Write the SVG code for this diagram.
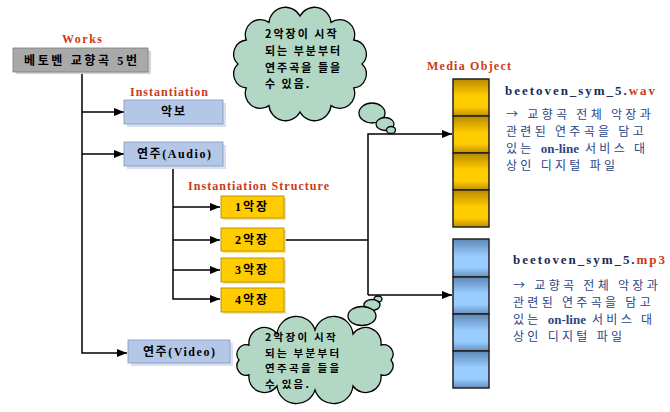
<svg xmlns="http://www.w3.org/2000/svg" width="670" height="412" viewBox="0 0 670 412">
<defs>
<style>
.lbl{font-family:"Liberation Serif","Noto Sans CJK KR",serif;font-weight:bold;font-size:12px;fill:#CC3A14}
.bx{font-family:"Liberation Serif","Noto Sans CJK KR",serif;font-weight:bold;font-size:12px;fill:#000}
.cl{font-family:"Noto Sans CJK KR",sans-serif;font-weight:bold;font-size:11px;fill:#000;letter-spacing:2px}
.cl2{font-family:"Noto Sans CJK KR",sans-serif;font-weight:bold;font-size:10.5px;fill:#000;letter-spacing:2.3px}
.ttl{font-family:"Liberation Serif","Noto Sans CJK KR",serif;font-weight:bold;font-size:13px;fill:#1B2A55}
.red{fill:#CC3A14}
.ds{font-family:"Noto Sans CJK KR",sans-serif;font-size:12px;fill:#2A4585;letter-spacing:3.3px}
.ol{font-family:"Liberation Serif",serif;font-weight:bold;font-size:13px;letter-spacing:0}
.conn{fill:none;stroke:#000;stroke-width:1.5}
.cloud{fill:#B2D8C5;stroke:#000;stroke-width:1.3}
.cellw{fill:url(#gw);stroke:#222;stroke-width:1.5}
.cellm{fill:url(#gm);stroke:#222;stroke-width:1.5}
</style>
<linearGradient id="gw" x1="0" y1="0" x2="0" y2="1">
<stop offset="0" stop-color="#B88A00"/><stop offset="0.45" stop-color="#FFCC00"/><stop offset="0.75" stop-color="#FFCC00"/><stop offset="1" stop-color="#C09000"/>
</linearGradient>
<linearGradient id="gm" x1="0" y1="0" x2="0" y2="1">
<stop offset="0" stop-color="#5E88B6"/><stop offset="0.45" stop-color="#99CCFF"/><stop offset="0.75" stop-color="#99CCFF"/><stop offset="1" stop-color="#6690BE"/>
</linearGradient>
<marker id="ah" markerUnits="userSpaceOnUse" markerWidth="11" markerHeight="9" refX="10" refY="4" orient="auto">
<path d="M0,0 L10,4 L0,8 z" fill="#000"/>
</marker>
</defs>

<rect width="670" height="412" fill="#fff"/>

<g id="connectors">
<path class="conn" d="M82,72 V353 H127" marker-end="url(#ah)"/>
<path class="conn" d="M82,112 H124" marker-end="url(#ah)"/>
<path class="conn" d="M82,154 H124" marker-end="url(#ah)"/>
<path class="conn" d="M173,166 V299 H220" marker-end="url(#ah)"/>
<path class="conn" d="M173,207 H220" marker-end="url(#ah)"/>
<path class="conn" d="M173,240 H220" marker-end="url(#ah)"/>
<path class="conn" d="M173,270 H220" marker-end="url(#ah)"/>
<path class="conn" d="M285,240 H368"/>
<path class="conn" d="M368,295 V134 H452" marker-end="url(#ah)"/>
<path class="conn" d="M368,295 H452" marker-end="url(#ah)"/>
</g>

<g id="works">
<text class="lbl" x="62" y="43" textLength="40" lengthAdjust="spacing">Works</text>
<rect x="16" y="51" width="135" height="23" fill="#D4D4D4"/>
<rect x="13" y="48" width="135" height="24" fill="#A9A9A9" stroke="#7A7A7A" stroke-width="0.8"/>
<text class="bx" x="24" y="65" textLength="113" lengthAdjust="spacing">베토벤 교향곡 5번</text>
</g>

<g id="akbo">
<text class="lbl" x="130" y="96" textLength="78" lengthAdjust="spacing">Instantiation</text>
<rect x="127" y="103" width="99" height="24" fill="#D6E0F2"/>
<rect x="124" y="100" width="99" height="24" fill="#B4C7E7" stroke="#8296B8" stroke-width="0.8"/>
<text class="bx" x="174" y="116" text-anchor="middle" letter-spacing="2">악보</text>
</g>

<g id="audio">
<rect x="127" y="145" width="99" height="24" fill="#D6E0F2"/>
<rect x="124" y="142" width="99" height="24" fill="#B4C7E7" stroke="#8296B8" stroke-width="0.8"/>
<text class="bx" x="137" y="158" textLength="74" lengthAdjust="spacing">연주(Audio)</text>
</g>

<g id="video">
<rect x="131" y="343" width="102" height="23" fill="#D6E0F2"/>
<rect x="128" y="340" width="102" height="23" fill="#B4C7E7" stroke="#8296B8" stroke-width="0.8"/>
<text class="bx" x="143" y="356" textLength="72" lengthAdjust="spacing">연주(Video)</text>
</g>

<text class="lbl" x="188" y="190" textLength="141" lengthAdjust="spacing">Instantiation Structure</text>

<g id="mov1">
<rect x="223" y="198" width="63" height="22" fill="#FFE27A"/>
<rect x="221" y="196" width="63" height="22" fill="#FFCC00" stroke="#A88400" stroke-width="0.8"/>
<text class="bx" x="235" y="211" textLength="32" lengthAdjust="spacing">1악장</text>
</g>
<g id="mov2">
<rect x="223" y="230" width="63" height="23" fill="#FFE27A"/>
<rect x="221" y="228" width="63" height="23" fill="#FFCC00" stroke="#A88400" stroke-width="0.8"/>
<text class="bx" x="235" y="244" textLength="32" lengthAdjust="spacing">2악장</text>
</g>
<g id="mov3">
<rect x="223" y="260" width="63" height="24" fill="#FFE27A"/>
<rect x="221" y="258" width="63" height="24" fill="#FFCC00" stroke="#A88400" stroke-width="0.8"/>
<text class="bx" x="235" y="274" textLength="32" lengthAdjust="spacing">3악장</text>
</g>
<g id="mov4">
<rect x="223" y="290" width="63" height="24" fill="#FFE27A"/>
<rect x="221" y="288" width="63" height="24" fill="#FFCC00" stroke="#A88400" stroke-width="0.8"/>
<text class="bx" x="235" y="304" textLength="32" lengthAdjust="spacing">4악장</text>
</g>

<g id="cloud-top">
<ellipse class="cloud" cx="372" cy="113" rx="13" ry="10"/>
<ellipse class="cloud" cx="385" cy="124" rx="9" ry="6.5"/>
<ellipse class="cloud" cx="391" cy="130" rx="4.5" ry="3.5"/>
<path class="cloud" d="M362,64 A14,14 0 0 1 353.7,88 A15,15 0 0 1 331,105.6 A16.5,16.5 0 0 1 300,112 A16.5,16.5 0 0 1 269,105.6 A15,15 0 0 1 246.3,88 A14,14 0 0 1 238,64 A14,14 0 0 1 246.3,40 A15,15 0 0 1 269,22.4 A16.5,16.5 0 0 1 300,16 A16.5,16.5 0 0 1 331,22.4 A15,15 0 0 1 353.7,40 A14,14 0 0 1 362,64 Z"/>
<text class="cl" x="265" y="38">2악장이 시작</text>
<text class="cl" x="265" y="55">되는 부분부터</text>
<text class="cl" x="265" y="72">연주곡을 들을</text>
<text class="cl" x="265" y="88">수 있음.</text>
</g>

<g id="cloud-bottom">
<ellipse class="cloud" cx="378" cy="299" rx="4" ry="3"/>
<ellipse class="cloud" cx="372" cy="305" rx="8" ry="5.5"/>
<ellipse class="cloud" cx="362" cy="316" rx="14" ry="9.5"/>
<path class="cloud" d="M391,360 A9.5,9.5 0 0 1 381,375 A15.5,15.5 0 0 1 353,386 A19.5,19.5 0 0 1 315,390 A19.5,19.5 0 0 1 277,386 A15.5,15.5 0 0 1 249,375 A9.5,9.5 0 0 1 239,360 A9.5,9.5 0 0 1 249,345 A15.5,15.5 0 0 1 277,334 A19.5,19.5 0 0 1 315,330 A19.5,19.5 0 0 1 353,334 A15.5,15.5 0 0 1 381,345 A9.5,9.5 0 0 1 391,360 Z"/>
<text class="cl2" x="265" y="341">2악장이 시작</text>
<text class="cl2" x="265" y="356.5">되는 부분부터</text>
<text class="cl2" x="265" y="372">연주곡을 들을</text>
<text class="cl2" x="265" y="387.5">수 있음.</text>
</g>

<g id="media-wav">
<text class="lbl" x="427" y="70" textLength="84" lengthAdjust="spacing">Media Object</text>
<rect class="cellw" x="453" y="79" width="36" height="37"/>
<rect class="cellw" x="453" y="116" width="36" height="37"/>
<rect class="cellw" x="453" y="153" width="36" height="37"/>
<rect class="cellw" x="453" y="190" width="36" height="37"/>
<text class="ttl" x="505" y="95" textLength="150" lengthAdjust="spacing">beetoven_sym_5.<tspan class="red">wav</tspan></text>
<text class="ds" x="506" y="119">→ 교향곡 전체 악장과</text>
<text class="ds" x="506" y="136">관련된 연주곡을 담고</text>
<text class="ds" x="506" y="153">있는 <tspan class="ol">on-line</tspan> 서비스 대</text>
<text class="ds" x="506" y="170">상인 디지털 파일</text>
</g>

<g id="media-mp3">
<rect class="cellm" x="453" y="239" width="36" height="38"/>
<rect class="cellm" x="453" y="277" width="36" height="37"/>
<rect class="cellm" x="453" y="314" width="36" height="37"/>
<rect class="cellm" x="453" y="351" width="36" height="37"/>
<text class="ttl" x="513" y="264" textLength="152" lengthAdjust="spacing">beetoven_sym_5.<tspan class="red">mp3</tspan></text>
<text class="ds" x="513" y="290">→ 교향곡 전체 악장과</text>
<text class="ds" x="513" y="307">관련된 연주곡을 담고</text>
<text class="ds" x="513" y="324">있는 <tspan class="ol">on-line</tspan> 서비스 대</text>
<text class="ds" x="513" y="341">상인 디지털 파일</text>
</g>
</svg>
